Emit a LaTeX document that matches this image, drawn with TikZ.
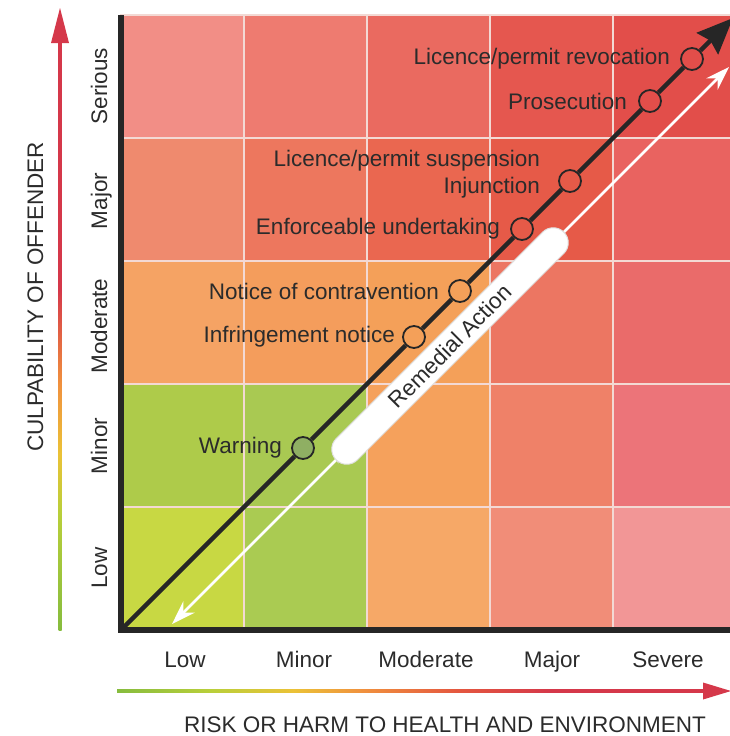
\documentclass[tikz,border=0pt]{standalone}
\usepackage{fontspec}
\setmainfont{Liberation Sans}
\usetikzlibrary{positioning, arrows.meta}

\definecolor{axgreen}{HTML}{86BC3E}
\definecolor{axlime}{HTML}{B9CF3A}
\definecolor{axyellow}{HTML}{EBC237}
\definecolor{axorange}{HTML}{F0903E}
\definecolor{axscarlet}{HTML}{E4573F}
\definecolor{axred}{HTML}{D5384A}
\definecolor{inkgray}{HTML}{2B2B2B}
\definecolor{gridline}{HTML}{F3D9D4}
\definecolor{warnfill}{HTML}{8FAF63}

\pgfdeclareverticalshading{culpshade}{100bp}{color(0bp)=(axgreen); color(25bp)=(axgreen); color(35bp)=(axlime); color(40bp)=(axyellow); color(46bp)=(axorange); color(54bp)=(axred); color(100bp)=(axred)}
\pgfdeclarehorizontalshading{riskshade}{100bp}{color(0bp)=(axgreen); color(25bp)=(axgreen); color(33bp)=(axlime); color(40bp)=(axyellow); color(46bp)=(axorange); color(54bp)=(axscarlet); color(62bp)=(axred); color(100bp)=(axred)}

\begin{document}
\begin{tikzpicture}[x=1pt, y=-1pt,
    txt/.style={text=inkgray, font=\fontsize{22.5}{27}\selectfont, inner sep=0pt},
    cell/.style={draw=gridline, line width=1.2pt},
    frame/.style={draw=black!85, line width=5.5pt},
    stage/.style={circle, draw=black!85, line width=1.8pt, minimum size=22pt, inner sep=0pt},
    track/.style={draw=black!85, line width=4.5pt},
    relief/.style={draw=white, line width=2.5pt, {Stealth[length=24pt, width=16pt]}-{Stealth[length=24pt, width=16pt]}},
    pill/.style={rectangle, rounded corners=15pt, fill=white, draw=black!12, line width=1pt, minimum width=322pt, minimum height=30pt}
]
    \useasboundingbox (0,0) rectangle (729,736);

    % Risk matrix, row by row from the top
    \foreach \clr [count=\n from 0] in {F28E86,EE7B70,EA6A60,E5574F,E24E4A,
                                         EF8A6E,ED775E,EA6750,E65A48,E96360,
                                         F5A364,F49D5C,F4A059,EC7662,EA6B6A,
                                         AECB4A,A9C952,F5A15C,EF8168,EC7479,
                                         C8D843,AACB52,F6A867,F18D78,F29696} {
        \pgfmathtruncatemacro{\col}{mod(\n,5)}
        \pgfmathtruncatemacro{\row}{div(\n,5)}
        \definecolor{cellfill}{HTML}{\clr}
        \fill[cell, fill=cellfill] (121+123*\col, 15+123*\row) rectangle ++(123,123);
    }

    % Axes frame
    \coordinate (origin) at (121,630);
    \draw[frame] (121,15) -- (origin) -- (736,630);

    % Remedial action band
    \coordinate (lowtip) at (172,624);
    \coordinate (hightip) at (729,67);
    \draw[relief] (lowtip) -- (hightip);
    \node[pill, txt, rotate=45] (remedy) at (450,346) {Remedial Action};

    % Enforcement steps along the diagonal
    \node[stage, fill=warnfill] (warn) at (303,448) {};
    \node[stage] (infr) at (414,337) {};
    \node[stage] (notice) at (460,291) {};
    \node[stage] (enforce) at (522,229) {};
    \node[stage] (injunct) at (570,181) {};
    \node[stage] (prosec) at (650,101) {};
    \node[stage] (revoke) at (692,59) {};
    \coordinate (peak) at (733,18);

    \draw[track] (origin) -- (warn) -- (infr) -- (notice) -- (enforce) -- (injunct) -- (prosec) -- (revoke);
    \draw[track, -{Stealth[length=36pt, width=30pt, inset=4pt]}] (revoke) -- (peak);

    \node[txt, left=9pt of warn] (warnlbl) {Warning};
    \node[txt, left=7pt of infr] (infrlbl) {Infringement notice};
    \node[txt, left=9pt of notice] (noticelbl) {Notice of contravention};
    \node[txt, left=10pt of enforce] (enforcelbl) {Enforceable undertaking};
    \node[txt, left=18pt of injunct, yshift=7pt, align=right] (injunctlbl) {Licence/permit suspension\\Injunction};
    \node[txt, left=11pt of prosec] (proseclbl) {Prosecution};
    \node[txt, left=10pt of revoke] (revokelbl) {Licence/permit revocation};

    % Axis labels
    \foreach \name/\ypos in {Serious/86, Major/201, Moderate/326, Minor/446, Low/568}
        \node[txt, rotate=90, anchor=base] (culp\name) at (107,\ypos) {\name};
    \foreach \name/\xpos in {Low/185, Minor/304, Moderate/426, Major/552, Severe/668}
        \node[txt, anchor=base] (risk\name) at (\xpos,667) {\name};

    \node[txt, rotate=90, anchor=base] (culptitle) at (43,297) {CULPABILITY OF OFFENDER};
    \node[txt, anchor=base] (risktitle) at (445,732) {RISK OR HARM TO HEALTH AND ENVIRONMENT};

    % Gradient axis arrows
    \shade[shading=culpshade] (58.5,630) rectangle (61.5,42);
    \fill[axred] (51,43) -- (60,8) -- (69,43) -- cycle;
    \shade[shading=riskshade] (117,689.5) rectangle (704,692.5);
    \fill[axred] (703,682.5) -- (731,691) -- (703,699.5) -- cycle;
\end{tikzpicture}
\end{document}
